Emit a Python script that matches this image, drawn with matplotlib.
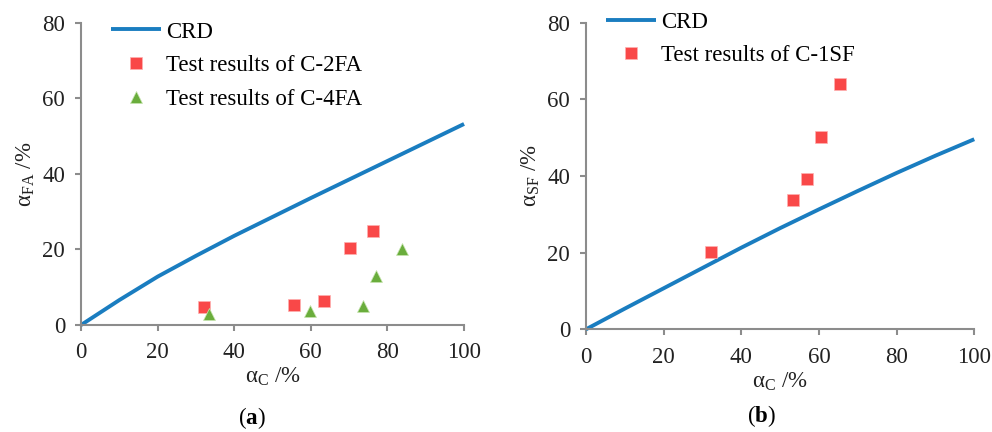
import matplotlib
matplotlib.use("Agg")
import matplotlib.pyplot as plt

# ---- data ----
crd_x = [0, 10, 20, 30, 40, 50, 60, 70, 80, 90, 100]
crd_fa = [0, 6.6, 12.8, 18.3, 23.6, 28.6, 33.6, 38.5, 43.4, 48.3, 53.2]
crd_sf = [0, 5.4, 10.7, 16.0, 21.3, 26.4, 31.3, 36.1, 40.8, 45.3, 49.6]

c2fa_x = [32.1, 55.6, 63.5, 70.1, 76.2]
c2fa_y = [4.8, 5.2, 6.3, 20.3, 25.0]

c4fa_x = [33.5, 59.7, 73.7, 76.9, 83.7]
c4fa_y = [2.8, 3.8, 4.9, 13.0, 20.0]

c1sf_x = [32.2, 53.4, 56.9, 60.6, 65.4]
c1sf_y = [20.1, 33.7, 39.3, 50.3, 64.0]

ticks_x = [0, 20, 40, 60, 80, 100]
ticks_y = [0, 20, 40, 60, 80]

# ---- style ----
plt.rcParams['font.family'] = ['Liberation Serif', 'DejaVu Serif']
plt.rcParams['mathtext.fontset'] = 'custom'
plt.rcParams['mathtext.rm'] = 'Liberation Serif'
plt.rcParams['mathtext.it'] = 'Liberation Serif:italic'
plt.rcParams['mathtext.bf'] = 'Liberation Serif:bold'

BLUE = '#1a7dc0'
RED = '#f94848'
GREEN = '#6aad3c'
GREY = '#8c8c8c'
TXT = '#222222'
FS = 16.5

fig = plt.figure(figsize=(9.92, 4.32), dpi=100)
ax_a = fig.add_axes([0.0817, 0.2477, 0.3861, 0.6998])
ax_b = fig.add_axes([0.5907, 0.2377, 0.3914, 0.7097])


def style_axes(ax):
    ax.set_xlim(0, 100)
    ax.set_ylim(0, 80)
    ax.set_xticks(ticks_x)
    ax.set_yticks(ticks_y)
    for s in ['top', 'right']:
        ax.spines[s].set_visible(False)
    for s in ['left', 'bottom']:
        ax.spines[s].set_color(GREY)
        ax.spines[s].set_linewidth(1.5)
    ax.tick_params(direction='out', length=4.5, width=1.5, color=GREY,
                   labelsize=FS, labelcolor=TXT)
    ax.tick_params(axis='x', pad=8)
    ax.tick_params(axis='y', pad=7)


# (a) fly ash
ax_a.plot(crd_x, crd_fa, color=BLUE, lw=2.8, label='CRD', clip_on=False,
          solid_capstyle='butt')
ax_a.plot(c2fa_x, c2fa_y, 's', color=RED, ms=8.5, mec='#ffb0b0', mew=0.5,
          label='Test results of C-2FA')
ax_a.plot(c4fa_x, c4fa_y, '^', color=GREEN, ms=9, mec='#c8e6b0', mew=0.5,
          label='Test results of C-4FA')
style_axes(ax_a)
ax_a.set_xlabel(r'$\mathrm{α}_\mathrm{C}$ /%', fontsize=FS, color=TXT, labelpad=2)
ax_a.set_ylabel(r'$\mathrm{α}_\mathrm{FA}$ /%', fontsize=FS, color=TXT, labelpad=4)
ax_a.legend(loc='upper left', bbox_to_anchor=(0.078, 1.004), frameon=False,
            fontsize=FS, handlelength=2.2, handletextpad=0.2, labelspacing=0.55,
            borderpad=0, borderaxespad=0)

# (b) silica fume
ax_b.plot(crd_x, crd_sf, color=BLUE, lw=2.8, label='CRD', clip_on=False,
          solid_capstyle='butt')
ax_b.plot(c1sf_x, c1sf_y, 's', color=RED, ms=8.5, mec='#ffb0b0', mew=0.5,
          label='Test results of C-1SF')
style_axes(ax_b)
ax_b.set_xlabel(r'$\mathrm{α}_\mathrm{C}$ /%', fontsize=FS, color=TXT, labelpad=2)
ax_b.set_ylabel(r'$\mathrm{α}_\mathrm{SF}$ /%', fontsize=FS, color=TXT, labelpad=4)
ax_b.legend(loc='upper left', bbox_to_anchor=(0.0515, 1.036), frameon=False,
            fontsize=FS, handlelength=2.2, handletextpad=0.2, labelspacing=0.55,
            borderpad=0, borderaxespad=0)

fig.text(252 / 992, 1 - 418 / 432, r'($\mathbf{a}$)', ha='center', va='center', fontsize=FS)
fig.text(761 / 992, 1 - 416 / 432, r'($\mathbf{b}$)', ha='center', va='center', fontsize=FS)

fig.savefig('out.png', dpi=100)
